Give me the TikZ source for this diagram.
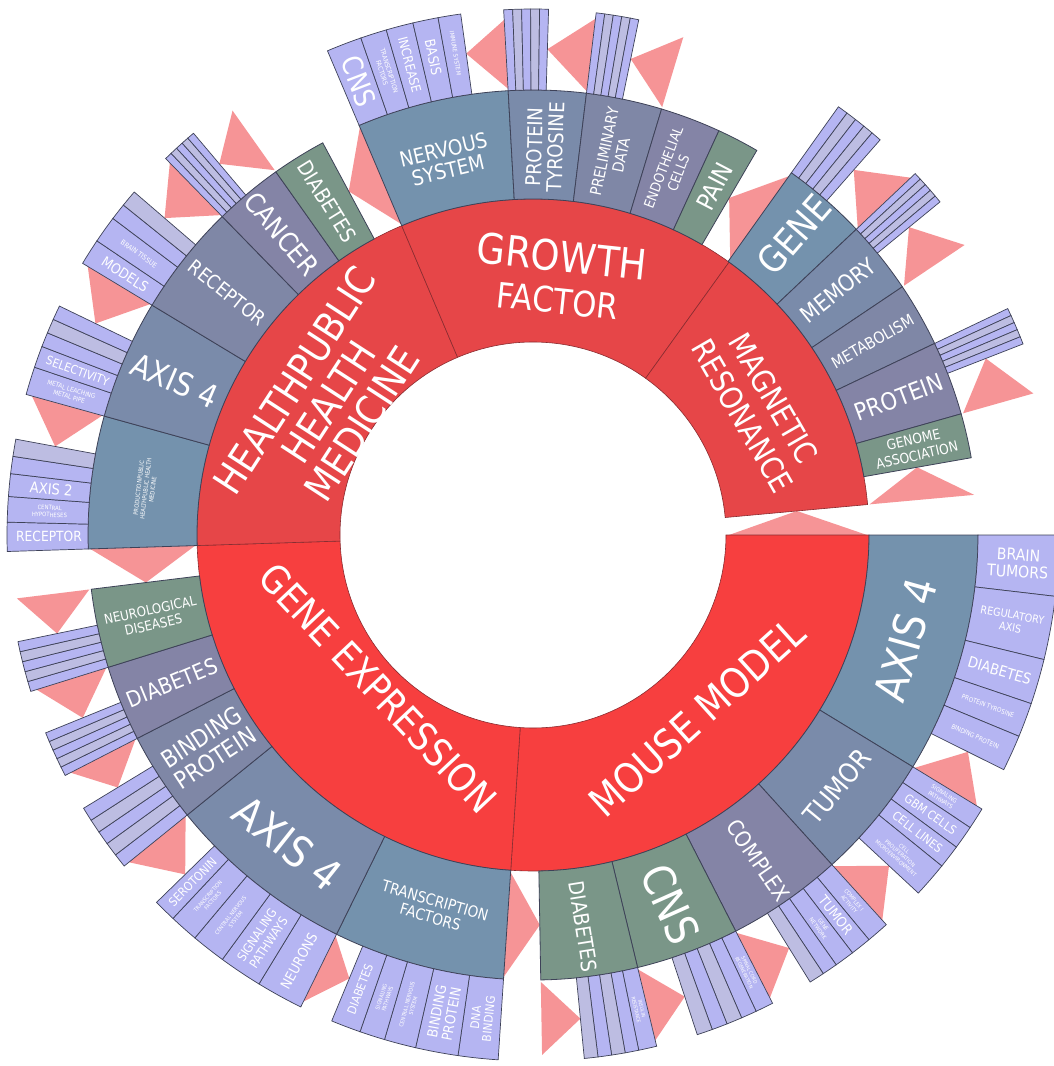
\documentclass[tikz,border=0pt]{standalone}
\usepackage{fontspec}
\newfontfamily\lbf{DejaVu Sans}[FakeStretch=0.88]
\newcommand{\lf}[2]{\lbf\fontsize{#1}{#2}\selectfont}
% annular sector: start angle, end angle, inner radius, outer radius, style
\newcommand{\ringsec}[5]{\path[#5] (#1:#3) -- (#1:#4) arc[start angle=#1,end angle=#2,radius=#4] -- (#2:#3) arc[start angle=#2,end angle=#1,radius=#3] -- cycle;}
% marker in an unfilled gap: apex angle, base angle, base inner r, base outer r, apex r
\newcommand{\gaptri}[5]{\fill[gapfill] (#2:#3) -- (#2:#4) -- (#1:#5) -- cycle;}
\newcommand{\leafbox}[2]{\ringsec{#1}{#2}{445}{526}{leafsec}}
\newcommand{\stripeset}[3]{%
  \foreach \k in {1,...,#3}{%
    \pgfmathsetmacro{\sa}{(#1)+((#2)-(#1))*(\k-1)/#3}%
    \pgfmathsetmacro{\sb}{(#1)+((#2)-(#1))*\k/#3}%
    \ifodd\k\relax \ringsec{\sa}{\sb}{445}{526}{leafsec}\else \ringsec{\sa}{\sb}{445}{526}{leafsecb}\fi}}
\definecolor{redA}{HTML}{E64648}
\definecolor{redB}{HTML}{F73F3F}
\definecolor{steel}{HTML}{7492AD}
\definecolor{slateA}{HTML}{7A8BAA}
\definecolor{slateB}{HTML}{7F87A6}
\definecolor{slateC}{HTML}{8484A6}
\definecolor{sage}{HTML}{7A9688}
\definecolor{lav}{HTML}{B5B5F2}
\definecolor{lavg}{HTML}{BDBDE2}
\definecolor{tri}{HTML}{F69496}
\definecolor{edge}{HTML}{3E4258}
\definecolor{coreedge}{HTML}{8A2C30}
\tikzset{
  coresec/.style={fill=#1, draw=coreedge, line width=0.6pt},
  midsec/.style={fill=#1, draw=edge, line width=0.8pt},
  leafsec/.style={fill=lav, draw=edge, line width=0.7pt},
  leafsecb/.style={fill=lavg, draw=edge, line width=0.7pt},
  gapfill/.style={fill=tri},
  lbl/.style={text=white, align=center, inner sep=0pt},
}
\begin{document}
\begin{tikzpicture}[x=1pt,y=1pt]
\useasboundingbox (-533,-531) rectangle (521,535);
\fill[white] (-533,-531) rectangle (521,535);

% ---------- gap markers ----------
\gaptri{5.2}{0}{196}{334}{265}
\gaptri{118.2}{113}{338}{443}{390}
\gaptri{59.8}{54.3}{338}{443}{390}
\gaptri{10}{5.2}{338}{443}{390}
\gaptri{-89}{-93.8}{338}{443}{390}
\gaptri{187}{181.8}{338}{443}{390}
\gaptri{169.5}{164.5}{447}{520}{486}
\gaptri{154.2}{148.9}{447}{520}{486}
\gaptri{139.3}{134.3}{447}{520}{486}
\gaptri{130.2}{125.3}{447}{520}{486}
\gaptri{97.9}{93.2}{447}{516}{486}
\gaptri{88.3}{83.1}{447}{520}{486}
\gaptri{78.4}{73.2}{447}{520}{486}
\gaptri{48.7}{43.4}{447}{520}{486}
\gaptri{39.3}{33.9}{447}{520}{486}
\gaptri{21.3}{15.8}{447}{520}{486}
\gaptri{-26.5}{-31.4}{447}{520}{486}
\gaptri{-42.9}{-47.8}{447}{520}{486}
\gaptri{-58.2}{-62.9}{447}{520}{486}
\gaptri{-71.8}{-76.4}{447}{520}{486}
\gaptri{-84.4}{-89}{447}{520}{486}
\gaptri{247.5}{243.8}{447}{520}{480}
\gaptri{224.3}{219}{447}{520}{486}
\gaptri{211.3}{207.2}{447}{520}{486}
\gaptri{202.1}{197.3}{447}{520}{486}
\gaptri{191.7}{187}{447}{520}{486}

% ---------- inner ring ----------
\ringsec{266.2}{360}{193}{336}{coresec=redB}
\ringsec{181.8}{266.2}{193}{336}{coresec=redB}
\ringsec{113}{181.8}{193}{336}{coresec=redA}
\ringsec{54.3}{113}{193}{336}{coresec=redA}
\ringsec{5.2}{54.3}{193}{336}{coresec=redA}

% ---------- middle ring ----------
\ringsec{164.5}{181.8}{336}{445}{midsec=steel}
\ringsec{148.9}{164.5}{336}{445}{midsec=slateA}
\ringsec{134.3}{148.9}{336}{445}{midsec=slateB}
\ringsec{125.3}{134.3}{336}{445}{midsec=slateC}
\ringsec{118.2}{125.3}{336}{445}{midsec=sage}
\ringsec{93.2}{113}{336}{445}{midsec=steel}
\ringsec{83.1}{93.2}{336}{445}{midsec=slateA}
\ringsec{73.2}{83.1}{336}{445}{midsec=slateB}
\ringsec{65.3}{73.2}{336}{445}{midsec=slateC}
\ringsec{59.8}{65.3}{336}{445}{midsec=sage}
\ringsec{43.4}{54.5}{336}{445}{midsec=steel}
\ringsec{33.9}{43.4}{336}{445}{midsec=slateA}
\ringsec{25.5}{33.9}{336}{445}{midsec=slateB}
\ringsec{15.8}{25.5}{336}{445}{midsec=slateC}
\ringsec{10}{15.8}{336}{445}{midsec=sage}
\ringsec{-31.4}{0}{336}{445}{midsec=steel}
\ringsec{-47.8}{-31.4}{336}{445}{midsec=slateA}
\ringsec{-62.9}{-47.8}{336}{445}{midsec=slateC}
\ringsec{-76.4}{-62.9}{336}{445}{midsec=sage}
\ringsec{-89}{-76.4}{336}{445}{midsec=sage}
\ringsec{243.8}{266.2}{336}{445}{midsec=steel}
\ringsec{219}{243.8}{336}{445}{midsec=slateA}
\ringsec{207.2}{219}{336}{445}{midsec=slateB}
\ringsec{197.3}{207.2}{336}{445}{midsec=slateC}
\ringsec{187}{197.3}{336}{445}{midsec=sage}

% ---------- outer ring ----------
% public health branch
\leafbox{178.6}{181.8}\leafbox{175.8}{178.6}\leafbox{173.3}{175.8}
\stripeset{173.3}{169.5}{2}
\leafbox{161.4}{164.5}\leafbox{159}{161.4}
\stripeset{159}{154.2}{3}
\leafbox{146}{148.9}\leafbox{143}{146}
\stripeset{143}{139.3}{2}
\stripeset{134.3}{130.2}{5}
% growth factor branch
\leafbox{109.1}{113}\leafbox{106.2}{109.1}\leafbox{103.2}{106.2}\leafbox{100.4}{103.2}\leafbox{97.9}{100.4}
\stripeset{93.2}{88.3}{5}
\stripeset{83.1}{78.4}{5}
% magnetic resonance branch
\stripeset{54.5}{48.7}{5}
\stripeset{43.4}{39.3}{5}
\stripeset{25.5}{21.3}{5}
% mouse model branch
\leafbox{-6.7}{0}\leafbox{-13.7}{-6.7}\leafbox{-18.7}{-13.7}\leafbox{-22.5}{-18.7}\leafbox{-26.5}{-22.5}
\leafbox{-33.8}{-31.4}\leafbox{-36.4}{-33.8}\leafbox{-39}{-36.4}\leafbox{-42.9}{-39}
\leafbox{-50.3}{-47.8}\leafbox{-52.6}{-50.3}\leafbox{-54.8}{-52.6}
\stripeset{-54.8}{-58.2}{2}
\leafbox{-64.9}{-62.9}
\stripeset{-64.9}{-71.8}{4}
\leafbox{-78.4}{-76.4}
\stripeset{-78.4}{-84.4}{4}
% gene expression branch
\leafbox{261.8}{266.2}\leafbox{257.1}{261.8}\leafbox{253.6}{257.1}\leafbox{250.8}{253.6}\leafbox{247.5}{250.8}
\leafbox{238.6}{243.8}\leafbox{233.8}{238.6}\leafbox{230}{233.8}\leafbox{226.8}{230}\leafbox{224.3}{226.8}
\stripeset{219}{211.3}{5}
\stripeset{207.2}{202.1}{5}
\stripeset{197.3}{191.7}{5}

% ---------- inner ring labels ----------
\node[lbl,rotate=-6,font=\lf{42}{42}] (lgrowth) at (84:259) {GROWTH\\\fontsize{35}{42}\selectfont FACTOR};
\node[lbl,rotate=57,font=\lf{40}{40}] (lhealth) at (147:244) {HEALTHPUBLIC\\HEALTH\\MEDICINE};
\node[lbl,rotate=-60,font=\lf{31}{36}] (lmagnet) at (29.6:259) {MAGNETIC\\RESONANCE};
\node[lbl,rotate=-46.7,font=\lf{39}{40}] (lgeneexp) at (224.6:218) {GENE EXPRESSION};
\node[lbl,rotate=42,font=\lf{41}{40}] (lmouse) at (-48:245) {MOUSE MODEL};

% ---------- middle ring labels ----------
\node[lbl,rotate=83.2,font=\lf{6}{7}] (mprod) at (173.2:390) {PRODUCTIONPUBLIC\\HEALTHPUBLIC HEALTH\\MEDICINE};
\node[lbl,rotate=-23.3,font=\lf{32}{32}] (maxisa) at (156.7:390) {AXIS 4};
\node[lbl,rotate=-38.4,font=\lf{19.5}{20}] (mreceptor) at (141.6:390) {RECEPTOR};
\node[lbl,rotate=-50.2,font=\lf{27}{27}] (mcancer) at (129.8:392) {CANCER};
\node[lbl,rotate=-58.3,font=\lf{21}{21}] (mdiabh) at (121.7:392) {DIABETES};
\node[lbl,rotate=13.1,font=\lf{21}{21}] (mnervous) at (103.1:385) {NERVOUS\\SYSTEM};
\node[lbl,rotate=88.2,font=\lf{20.5}{21}] (mprotyr) at (88.2:388) {PROTEIN\\TYROSINE};
\node[lbl,rotate=78.2,font=\lf{15.5}{17}] (mprelim) at (78.2:390) {PRELIMINARY\\DATA};
\node[lbl,rotate=69.3,font=\lf{14}{16}] (mendo) at (69.3:390) {ENDOTHELIAL\\CELLS};
\node[lbl,rotate=62.5,font=\lf{25}{25}] (mpain) at (62.5:393) {PAIN};
\node[lbl,rotate=49,font=\lf{37}{37}] (mgene) at (49:398) {GENE};
\node[lbl,rotate=38.7,font=\lf{23}{23}] (mmemory) at (38.7:391) {MEMORY};
\node[lbl,rotate=29.7,font=\lf{16}{16}] (mmetab) at (29.7:391) {METABOLISM};
\node[lbl,rotate=20.6,font=\lf{24}{24}] (mprotein) at (20.6:391) {PROTEIN};
\node[lbl,rotate=12.9,font=\lf{14}{16}] (mgenome) at (12.9:392) {GENOME\\ASSOCIATION};
\node[lbl,rotate=74.3,font=\lf{44}{44}] (maxisb) at (-15.7:387) {AXIS 4};
\node[lbl,rotate=50.4,font=\lf{27}{27}] (mtumor) at (-39.6:395) {TUMOR};
\node[lbl,rotate=-55.3,font=\lf{22}{22}] (mcomplex) at (-55.3:396) {COMPLEX};
\node[lbl,rotate=-66,font=\lf{44}{44}] (mcns) at (-69.6:394) {CNS};
\node[lbl,rotate=-81,font=\lf{21}{21}] (mdiabm) at (-82.7:395) {DIABETES};
\node[lbl,rotate=-16,font=\lf{15.5}{17}] (mtransc) at (255:387) {TRANSCRIPTION\\FACTORS};
\node[lbl,rotate=-38.5,font=\lf{43}{43}] (maxisc) at (231.5:394) {AXIS 4};
\node[lbl,rotate=33.2,font=\lf{24}{25}] (mbind) at (213.2:388) {BINDING\\PROTEIN};
\node[lbl,rotate=22.3,font=\lf{22}{22}] (mdiabg) at (202.3:390) {DIABETES};
\node[lbl,rotate=12.2,font=\lf{13.5}{15}] (mneuro) at (192.2:390) {NEUROLOGICAL\\DISEASES};

% ---------- outer ring labels ----------
\node[lbl,rotate=-69,font=\lf{28}{28}] (ocns) at (111:486) {CNS};
\node[lbl,rotate=-72.35,font=\lf{6.5}{7.6}] (otf) at (107.65:486) {TRANSCRIPTION\\FACTORS};
\node[lbl,rotate=-75.3,font=\lf{13}{13}] (oincrease) at (104.7:486) {INCREASE};
\node[lbl,rotate=-78.2,font=\lf{14}{14}] (obasis) at (101.8:488) {BASIS};
\node[lbl,rotate=-80.85,font=\lf{6}{6}] (oimmune) at (99.15:488) {IMMUNE SYSTEM};
\node[lbl,rotate=0.2,font=\lf{14}{14}] (oreceptor) at (180.2:484) {RECEPTOR};
\node[lbl,rotate=-2.8,font=\lf{6}{7}] (ocentral) at (177.2:484) {CENTRAL\\HYPOTHESES};
\node[lbl,rotate=-5.45,font=\lf{15}{15}] (oaxis) at (174.55:484) {AXIS 2};
\node[lbl,rotate=-17,font=\lf{6.5}{7.6}] (ometal) at (162.95:484) {METAL LEACHING\\METAL PIPE};
\node[lbl,rotate=-19.8,font=\lf{12}{12}] (oselect) at (160.2:484) {SELECTIVITY};
\node[lbl,rotate=-32.5,font=\lf{14}{14}] (omodels) at (147.45:484) {MODELS};
\node[lbl,rotate=-35.5,font=\lf{7}{7}] (otissue) at (144.5:484) {BRAIN TISSUE};
\node[lbl,rotate=-3.35,font=\lf{16}{17}] (obtumors) at (-3.35:486) {BRAIN\\TUMORS};
\node[lbl,rotate=-10.2,font=\lf{11}{12.5}] (oregul) at (-10.2:486) {REGULATORY\\AXIS};
\node[lbl,rotate=-16.2,font=\lf{15}{15}] (odiabm) at (-16.2:486) {DIABETES};
\node[lbl,rotate=-20.6,font=\lf{6.5}{6.5}] (oprotyr) at (-20.6:486) {PROTEIN TYROSINE};
\node[lbl,rotate=-24.5,font=\lf{6.5}{6.5}] (obindm) at (-24.5:486) {BINDING PROTEIN};
\node[lbl,rotate=-32.6,font=\lf{6}{7}] (osignm) at (-32.6:486) {SIGNALING\\PATHWAYS};
\node[lbl,rotate=-35.1,font=\lf{12}{12}] (ogbm) at (-35.1:486) {GBM CELLS};
\node[lbl,rotate=-37.7,font=\lf{12}{12}] (olines) at (-37.7:486) {CELL LINES};
\node[lbl,rotate=-40.95,font=\lf{5.5}{6.4}] (oprolif) at (-40.95:486) {CELL\\PROLIFERATION\\MICROENVIRONMENT};
\node[lbl,rotate=-49.05,font=\lf{5.5}{6.4}] (ocompl) at (-49.05:486) {COMPLEX I\\ACTIVITY};
\node[lbl,rotate=-51.45,font=\lf{14}{14}] (otumorc) at (-51.45:486) {TUMOR};
\node[lbl,rotate=-53.7,font=\lf{5.5}{6.4}] (ogenenet) at (-53.7:486) {GENE\\NETWORK};
\node[lbl,rotate=-63.9,font=\lf{5}{5.9}] (ospinal) at (-63.9:486) {SPINAL CORD\\REGENERATION};
\node[lbl,rotate=-77.4,font=\lf{5}{5.9}] (oinsulin) at (-77.4:486) {INSULIN\\RESISTANCE};
\node[lbl,rotate=84,font=\lf{12}{13}] (odna) at (264:486) {DNA\\BINDING};
\node[lbl,rotate=79.45,font=\lf{14}{15}] (obindg) at (259.45:486) {BINDING\\PROTEIN};
\node[lbl,rotate=75.35,font=\lf{5.5}{6.4}] (ocnsa) at (255.35:486) {CENTRAL NERVOUS\\SYSTEM};
\node[lbl,rotate=72.2,font=\lf{5.5}{6.4}] (osigna) at (252.2:486) {SIGNALING\\PATHWAYS};
\node[lbl,rotate=69.15,font=\lf{12}{12}] (odiabg) at (249.15:486) {DIABETES};
\node[lbl,rotate=61.2,font=\lf{14}{14}] (oneurons) at (241.2:486) {NEURONS};
\node[lbl,rotate=56.2,font=\lf{12.5}{14}] (osignb) at (236.2:486) {SIGNALING\\PATHWAYS};
\node[lbl,rotate=51.9,font=\lf{5.5}{6.4}] (ocnsb) at (231.9:486) {CENTRAL NERVOUS\\SYSTEM};
\node[lbl,rotate=48.4,font=\lf{5.5}{6.4}] (otfb) at (228.4:486) {TRANSCRIPTION\\FACTORS};
\node[lbl,rotate=45.55,font=\lf{12}{12}] (osero) at (225.55:486) {SEROTONIN};
\end{tikzpicture}
\end{document}
